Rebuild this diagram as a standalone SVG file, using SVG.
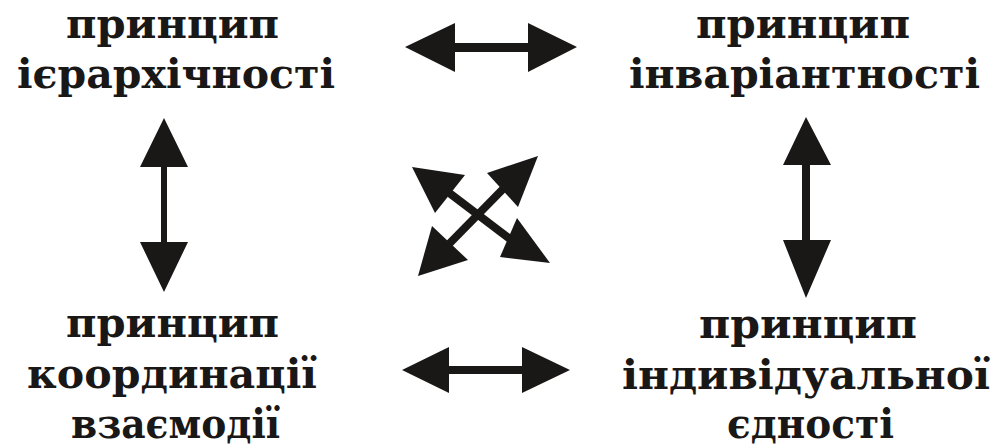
<svg xmlns="http://www.w3.org/2000/svg" width="996" height="448" viewBox="0 0 996 448">
<style>
text{font-family:"DejaVu Serif","Liberation Serif",serif;font-weight:bold;font-size:41px;fill:#1a1717}
.ar{fill:#1a1717}
.sh{stroke:#1a1717;stroke-width:8;fill:none}
</style>
<rect width="996" height="448" fill="#fff"/>
<g id="node-hierarchy">
<text x="66" y="38" textLength="213" lengthAdjust="spacingAndGlyphs">принцип</text>
<text x="17" y="88" textLength="318" lengthAdjust="spacingAndGlyphs">ієрархічності</text>
</g>
<g id="node-invariance">
<text x="696" y="38" textLength="214" lengthAdjust="spacingAndGlyphs">принцип</text>
<text x="629" y="88" textLength="351" lengthAdjust="spacingAndGlyphs">інваріантності</text>
</g>
<g id="node-coordination">
<text x="66" y="337" textLength="213" lengthAdjust="spacingAndGlyphs">принцип</text>
<text x="27" y="388" textLength="290" lengthAdjust="spacingAndGlyphs">координації</text>
<text x="71" y="438" textLength="209" lengthAdjust="spacingAndGlyphs">взаємодії</text>
</g>
<g id="node-unity">
<text x="699" y="338" textLength="218" lengthAdjust="spacingAndGlyphs">принцип</text>
<text x="622" y="389" textLength="368" lengthAdjust="spacingAndGlyphs">індивідуальної</text>
<text x="727" y="438" textLength="167" lengthAdjust="spacingAndGlyphs">єдності</text>
</g>
<g id="connectors">
<polygon class="ar" points="405,47 455,23 455,43 528,43 528,23 577,47 528,72 528,52 455,52 455,72"/>
<polygon class="ar" points="402,370 449,347 449,366 522,366 522,347 570,370 522,393 522,374 449,374 449,393"/>
<polygon class="ar" points="164,118 188,167 167,167 167,242 188,242 164,292 140,242 161,242 161,167 140,167"/>
<polygon class="ar" points="806,117 831,165 810,165 810,240 831,240 806,298 783,240 802,240 802,165 783,165"/>
<line class="sh" x1="448" y1="192" x2="510" y2="239"/>
<line class="sh" x1="504" y1="188" x2="448" y2="245"/>
<polygon class="ar" points="412,167 465,175 435,213"/>
<polygon class="ar" points="550,263 517,218 500,257"/>
<polygon class="ar" points="538,156 487,173 518,207"/>
<polygon class="ar" points="418,276 432,226 468,260"/>
</g>
</svg>
